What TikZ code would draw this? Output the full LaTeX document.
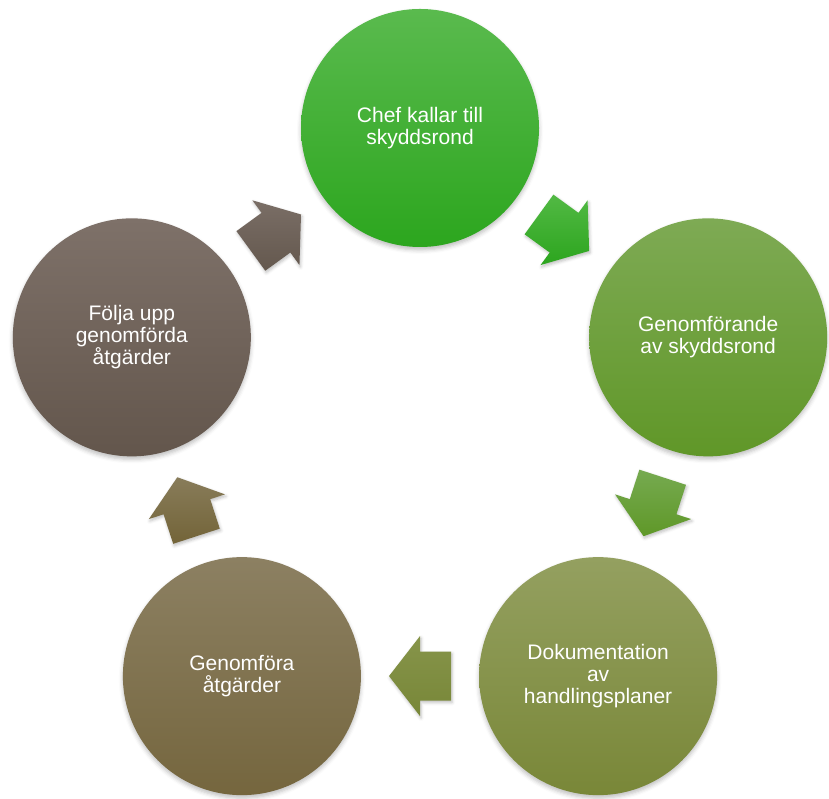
\documentclass[tikz,border=0pt]{standalone}
\usepackage{fontspec}
\setmainfont{Liberation Sans}
\usetikzlibrary{shadows.blur}
\definecolor{g1t}{RGB}{90,186,78}
\definecolor{g1b}{RGB}{44,166,30}
\definecolor{g2t}{RGB}{126,170,84}
\definecolor{g2b}{RGB}{96,151,40}
\definecolor{g3t}{RGB}{148,160,96}
\definecolor{g3b}{RGB}{121,135,56}
\definecolor{g4t}{RGB}{140,128,98}
\definecolor{g4b}{RGB}{117,102,62}
\definecolor{g5t}{RGB}{126,113,105}
\definecolor{g5b}{RGB}{99,86,76}
\definecolor{a1t}{RGB}{82,185,68}
\definecolor{a1b}{RGB}{44,165,30}
\definecolor{a2t}{RGB}{118,170,80}
\definecolor{a2b}{RGB}{95,152,40}
\definecolor{a3t}{RGB}{134,148,74}
\definecolor{a3b}{RGB}{120,135,56}
\definecolor{a4t}{RGB}{136,124,90}
\definecolor{a4b}{RGB}{115,100,56}
\definecolor{a5t}{RGB}{122,110,102}
\definecolor{a5b}{RGB}{100,88,78}
\newcommand\myarrowpath{(-31,24.5) -- (0,24.5) -- (0,40) -- (31,0) -- (0,-40)
      -- (0,-24.5) -- (-31,-24.5) -- cycle}
\tikzset{
  stage/.style={circle, minimum size=238pt, inner sep=0pt, text=white,
    align=center, font=\fontsize{21}{22}\selectfont,
    blur shadow={shadow xshift=0pt, shadow yshift=-3pt, shadow blur radius=4pt, shadow opacity=25}},
  blockarrow/.style={blur shadow={shadow xshift=1pt, shadow yshift=-2pt, shadow blur radius=3pt, shadow opacity=25}}
}
\begin{document}
\begin{tikzpicture}[x=1pt,y=1pt]
\useasboundingbox (0,0) rectangle (829,799);
\begin{scope}[shift={(420,368)}]
  \node[stage, top color=g1t, bottom color=g1b] (s1) at (90:303) {Chef kallar till\\skyddsrond};
  \node[stage, top color=g2t, bottom color=g2b] (s2) at (18:303) {Genomförande\\av skyddsrond};
  \node[stage, top color=g3t, bottom color=g3b] (s3) at (-54:303) {Dokumentation\\av\\handlingsplaner};
  \node[stage, top color=g4t, bottom color=g4b] (s4) at (-126:303) {Genomföra\\åtgärder};
  \node[stage, top color=g5t, bottom color=g5b] (s5) at (162:303) {Följa upp\\genomförda\\åtgärder};
  \coordinate (p1) at (54:245.1);
  \coordinate (p2) at (-18:245.1);
  \coordinate (p3) at (-90:245.1);
  \coordinate (p4) at (-162:245.1);
  \coordinate (p5) at (126:245.1);
\end{scope}
\begin{scope}[shift={(p1)}, rotate=-36]
  \shade[blockarrow, top color=a1t, bottom color=a1b] \myarrowpath;
\end{scope}
\begin{scope}[shift={(p2)}, rotate=-108]
  \shade[blockarrow, top color=a2t, bottom color=a2b] \myarrowpath;
\end{scope}
\begin{scope}[shift={(p3)}, rotate=180]
  \shade[blockarrow, top color=a3t, bottom color=a3b] \myarrowpath;
\end{scope}
\begin{scope}[shift={(p4)}, rotate=108]
  \shade[blockarrow, top color=a4t, bottom color=a4b] \myarrowpath;
\end{scope}
\begin{scope}[shift={(p5)}, rotate=36]
  \shade[blockarrow, top color=a5t, bottom color=a5b] \myarrowpath;
\end{scope}
\end{tikzpicture}
\end{document}
